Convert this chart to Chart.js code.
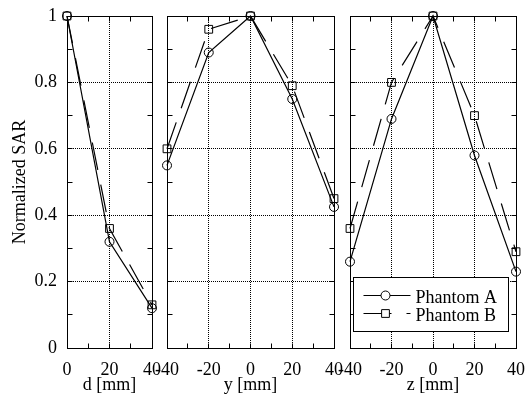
<!DOCTYPE html>
<html><head><meta charset="utf-8">
<script src="https://cdn.jsdelivr.net/npm/chart.js@4/dist/chart.umd.min.js"></script>
<style>
html,body{margin:0;padding:0;background:#fff;}
#wrap{position:relative;width:528px;height:394px;overflow:hidden;background:#fff;}
canvas{position:absolute;top:0;}
</style></head><body>
<div id="wrap">
<canvas id="c1" width="170" height="394" style="left:0px"></canvas>
<canvas id="c2" width="200" height="394" style="left:150px"></canvas>
<canvas id="c3" width="195" height="394" style="left:333px"></canvas>
</div>
<script>
// ---- data ----
const seriesNames = ['Phantom A', 'Phantom B'];
const dPos = [0, 20, 40];
const dPhantomA = [1, 0.32, 0.12];
const dPhantomB = [1, 0.36, 0.13];
const yPos = [-40, -20, 0, 20, 40];
const yPhantomA = [0.55, 0.89, 1, 0.75, 0.425];
const yPhantomB = [0.60, 0.96, 1, 0.79, 0.45];
const zPos = [-40, -20, 0, 20, 40];
const zPhantomA = [0.26, 0.69, 1, 0.58, 0.23];
const zPhantomB = [0.36, 0.80, 1, 0.70, 0.29];
const sarTicks = [0, 0.2, 0.4, 0.6, 0.8, 1];
const dTicks = [0, 20, 40];
const yzTicks = [-40, -20, 0, 20, 40];
const axisTitles = ['d [mm]', 'y [mm]', 'z [mm]'];
const sarTitle = 'Normalized SAR';

// ---- styles ----
const FONT = {family: '"Liberation Serif", "Times New Roman", serif', size: 18, lineHeight: 1};
const DASH_B = [28, 15];
const GRID_DASH = [1, 1];

function minorOf(ticks) {
  const out = [];
  for (let i = 0; i < ticks.length; i++) {
    out.push(ticks[i]);
    if (i < ticks.length - 1) out.push((ticks[i] + ticks[i + 1]) / 2);
  }
  return out;
}

const framePlugin = {
  id: 'frame',
  beforeDatasetsDraw(chart, args, opts) {
    const {ctx, chartArea: ca, scales: {x, y}} = chart;
    const al = v => Math.floor(v) + 0.5;
    const L = al(ca.left), R = al(ca.right), T = al(ca.top), B = al(ca.bottom);
    ctx.save();
    ctx.strokeStyle = '#000';
    ctx.lineWidth = 1;
    ctx.setLineDash([]);
    ctx.strokeRect(L, T, R - L, B - T);
    const tl = 5;
    ctx.beginPath();
    for (const v of minorOf(opts.xTicks || [])) {
      const px = al(x.getPixelForValue(v));
      ctx.moveTo(px, T); ctx.lineTo(px, T + tl);
      ctx.moveTo(px, B); ctx.lineTo(px, B - tl);
    }
    for (const v of minorOf(sarTicks)) {
      const py = al(y.getPixelForValue(v));
      ctx.moveTo(L, py); ctx.lineTo(L + tl, py);
      ctx.moveTo(R, py); ctx.lineTo(R - tl, py);
    }
    ctx.stroke();
    ctx.restore();
  }
};

const legendPlugin = {
  id: 'boxLegend',
  afterDraw(chart, args, opts) {
    if (!opts.show) return;
    const {ctx, chartArea: ca} = chart;
    const bx = Math.floor(ca.left) + 3.5, by = 277.5;
    const bw = 155, bh = 54;
    ctx.save();
    ctx.fillStyle = '#fff';
    ctx.fillRect(bx, by, bw, bh);
    ctx.strokeStyle = '#000';
    ctx.lineWidth = 1;
    ctx.setLineDash([]);
    ctx.strokeRect(bx, by, bw, bh);
    const rows = [295.5, 313.5];
    chart.data.datasets.forEach((ds, i) => {
      const yy = rows[i];
      const x0 = bx + 10, x1 = bx + 57, xm = bx + 32;
      ctx.save();
      ctx.strokeStyle = '#000';
      ctx.lineWidth = ds.borderWidth;
      ctx.setLineDash(ds.borderDash || []);
      ctx.beginPath(); ctx.moveTo(x0, yy); ctx.lineTo(x1, yy); ctx.stroke();
      ctx.setLineDash([]);
      ctx.fillStyle = '#fff';
      ctx.lineWidth = 1;
      Chart.helpers.drawPoint(ctx, {pointStyle: ds.pointStyle, radius: ds.pointRadius, borderWidth: 1}, xm, yy);
      ctx.restore();
      ctx.fillStyle = '#000';
      ctx.font = '18px "Liberation Serif", "Times New Roman", serif';
      ctx.textBaseline = 'alphabetic';
      ctx.textAlign = 'left';
      ctx.fillText(ds.label, bx + 62, yy + 7);
    });
    ctx.restore();
  }
};

function pts(xs, vs) { return xs.map((v, i) => ({x: v, y: vs[i]})); }

function makeChart(id, xs, a, b, xTicks, xTitle, cfg) {
  const ds = (label, vals, style, dash, r) => ({
    label, data: pts(xs, vals), borderColor: '#000', backgroundColor: '#fff',
    borderWidth: 1.2, borderDash: dash, pointStyle: style, pointRadius: r,
    pointBorderWidth: 1, pointBorderColor: '#000', pointBackgroundColor: 'rgba(255,255,255,0)',
    tension: 0, clip: false, fill: false
  });
  return new Chart(document.getElementById(id), {
    type: 'line',
    data: {datasets: [
      ds(seriesNames[0], a, 'circle', [], 4.5),
      ds(seriesNames[1], b, 'rect', DASH_B, 5.5)
    ]},
    options: {
      responsive: false, animation: false, devicePixelRatio: 1,
      layout: {padding: {left: 0, right: cfg.padRight, top: 16, bottom: 0}},
      plugins: {
        legend: {display: false}, tooltip: {enabled: false},
        frame: {xTicks: xTicks},
        boxLegend: {show: !!cfg.legend}
      },
      scales: {
        x: {
          type: 'linear', min: xTicks[0], max: xTicks[xTicks.length - 1],
          afterBuildTicks: s => { s.ticks = xTicks.map(v => ({value: v})); },
          ticks: {font: FONT, color: '#000', padding: 13, maxRotation: 0, autoSkip: false, callback: v => String(v)},
          grid: {color: '#000', lineWidth: 1, drawTicks: false},
          border: {display: false, dash: GRID_DASH},
          title: {display: true, text: xTitle, font: FONT, color: '#000', padding: {top: 0, bottom: 0}},
          afterFit: s => { s.height = 46; s.paddingLeft = 0; s.paddingRight = 0; }
        },
        y: {
          type: 'linear', min: 0, max: 1,
          afterBuildTicks: s => { s.ticks = sarTicks.map(v => ({value: v})); },
          ticks: {display: cfg.showY, font: FONT, color: '#000', padding: 10, callback: v => String(v)},
          grid: {color: '#000', lineWidth: 1, drawTicks: false},
          border: {display: false, dash: GRID_DASH},
          title: {display: cfg.showY, text: sarTitle, font: FONT, color: '#000', padding: {top: 11, bottom: 0}},
          afterFit: s => { s.width = cfg.yWidth; s.paddingTop = 0; s.paddingBottom = 0; }
        }
      }
    },
    plugins: [framePlugin, legendPlugin]
  });
}

makeChart('c1', dPos, dPhantomA, dPhantomB, dTicks, axisTitles[0], {showY: true, yWidth: 67, padRight: 18});
makeChart('c2', yPos, yPhantomA, yPhantomB, yzTicks, axisTitles[1], {showY: false, yWidth: 17, padRight: 16});
makeChart('c3', zPos, zPhantomA, zPhantomB, yzTicks, axisTitles[2], {showY: false, yWidth: 17, padRight: 12, legend: true});
</script>
</body></html>
